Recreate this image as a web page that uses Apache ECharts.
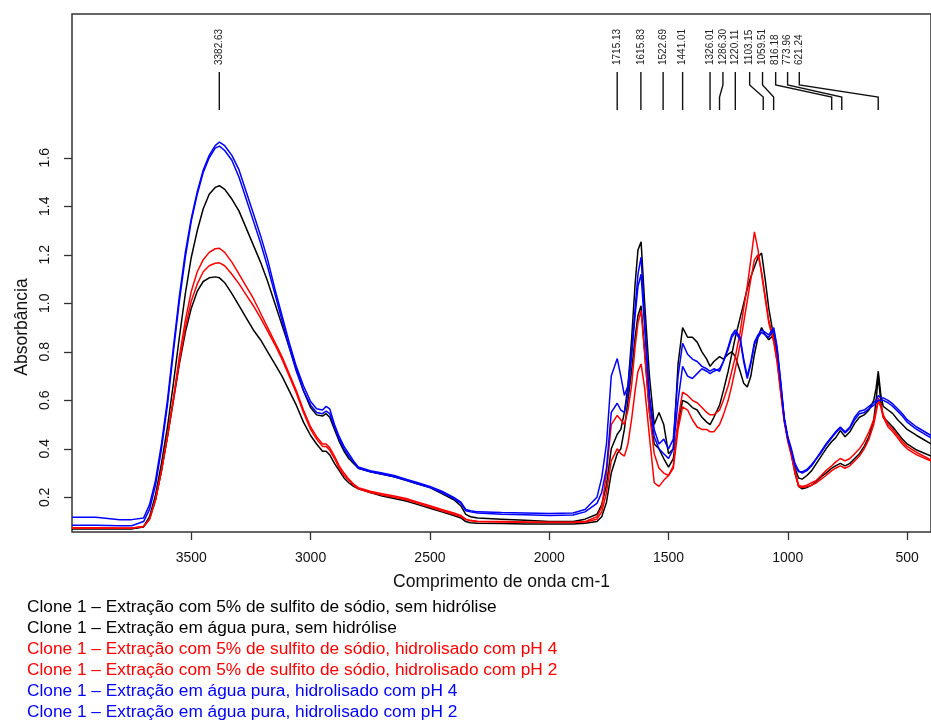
<!DOCTYPE html>
<html>
<head>
<meta charset="utf-8">
<script src="https://cdn.jsdelivr.net/npm/echarts@6/dist/echarts.min.js"></script>
<style>
  html, body { margin: 0; padding: 0; background: #fff; }
  #chart { width: 931px; height: 721px; }
</style>
</head>
<body>
<div id="chart"></div>
<script>
// Wavenumber grid (cm-1) shared by every spectrum
const wavenumbers = [
  4000, 3900, 3800, 3750, 3700, 3675, 3650, 3625, 3600, 3575,
  3550, 3525, 3500, 3475, 3450, 3425, 3400, 3382, 3360, 3330,
  3300, 3270, 3240, 3210, 3180, 3150, 3120, 3090, 3060, 3030,
  3000, 2975, 2950, 2935, 2920, 2900, 2880, 2860, 2840, 2820,
  2800, 2750, 2700, 2650, 2600, 2550, 2500, 2450, 2400, 2370,
  2350, 2330, 2300, 2200, 2100, 2000, 1900, 1850, 1800, 1780,
  1760, 1740, 1715, 1700, 1685, 1670, 1655, 1640, 1628, 1615,
  1600, 1580, 1560, 1540, 1520, 1500, 1480, 1460, 1441, 1420,
  1400, 1380, 1360, 1340, 1326, 1310, 1286, 1270, 1250, 1235,
  1220, 1200, 1185, 1170, 1155, 1140, 1125, 1110, 1095, 1080,
  1059, 1045, 1030, 1015, 1000, 985, 970, 955, 940, 920,
  900, 880, 860, 840, 816, 800, 780, 760, 740, 720,
  700, 680, 660, 640, 630, 621, 610, 600, 580, 560,
  540, 520, 500, 460, 400
];

// Absorbance of each extract
const sulfitoSemHidrolise = [
  0.07, 0.07, 0.07, 0.07, 0.078, 0.11, 0.19, 0.31, 0.45, 0.60,
  0.75, 0.88, 0.98, 1.05, 1.09, 1.105, 1.109, 1.105, 1.085, 1.04,
  0.99, 0.94, 0.89, 0.85, 0.80, 0.75, 0.70, 0.64, 0.58, 0.51,
  0.455, 0.42, 0.39, 0.39, 0.375, 0.34, 0.31, 0.28, 0.26, 0.245,
  0.235, 0.22, 0.205, 0.195, 0.185, 0.17, 0.155, 0.14, 0.125, 0.115,
  0.10, 0.095, 0.093, 0.092, 0.09, 0.09, 0.09, 0.093, 0.10, 0.12,
  0.18, 0.30, 0.38, 0.40, 0.48, 0.60, 0.72, 0.86, 0.95, 0.99,
  0.80, 0.55, 0.42, 0.40, 0.36, 0.325, 0.36, 0.50, 0.60, 0.59,
  0.57, 0.56, 0.53, 0.51, 0.50, 0.53, 0.58, 0.64, 0.72, 0.79,
  0.86, 0.94, 1.00, 1.06, 1.11, 1.15, 1.19, 1.207, 1.10, 0.98,
  0.86, 0.78, 0.65, 0.52, 0.44, 0.38, 0.30, 0.245, 0.235, 0.24,
  0.25, 0.265, 0.285, 0.30, 0.32, 0.33, 0.34, 0.33, 0.34, 0.36,
  0.38, 0.41, 0.45, 0.52, 0.60, 0.70, 0.59, 0.53, 0.51, 0.49,
  0.465, 0.44, 0.42, 0.395, 0.37
];

const aguaSemHidrolise = [
  0.07, 0.07, 0.07, 0.07, 0.08, 0.12, 0.21, 0.34, 0.49, 0.67,
  0.86, 1.04, 1.19, 1.30, 1.39, 1.45, 1.478, 1.485, 1.47, 1.43,
  1.38, 1.31, 1.24, 1.17, 1.09, 1.00, 0.91, 0.82, 0.73, 0.64,
  0.57, 0.54, 0.535, 0.545, 0.53, 0.48, 0.43, 0.39, 0.36, 0.34,
  0.32, 0.305, 0.295, 0.285, 0.27, 0.255, 0.24, 0.215, 0.19, 0.165,
  0.13, 0.12, 0.115, 0.11, 0.105, 0.10, 0.10, 0.11, 0.13, 0.17,
  0.25, 0.40, 0.46, 0.48, 0.55, 0.66, 0.85, 1.08, 1.22, 1.254,
  1.0, 0.70, 0.50, 0.55, 0.50, 0.38, 0.40, 0.75, 0.90, 0.86,
  0.86, 0.84, 0.80, 0.77, 0.74, 0.76, 0.78, 0.77, 0.79, 0.80,
  0.78, 0.72, 0.67, 0.655, 0.70, 0.79, 0.86, 0.90, 0.87, 0.85,
  0.87, 0.80, 0.66, 0.52, 0.44, 0.39, 0.32, 0.28, 0.275, 0.29,
  0.31, 0.34, 0.37, 0.40, 0.43, 0.445, 0.475, 0.45, 0.47, 0.505,
  0.53, 0.54, 0.56, 0.60, 0.65, 0.72, 0.62, 0.575, 0.56, 0.545,
  0.52, 0.50, 0.48, 0.455, 0.42
];

const sulfitoPH4 = [
  0.075, 0.075, 0.074, 0.074, 0.08, 0.11, 0.19, 0.31, 0.45, 0.61,
  0.78, 0.93, 1.05, 1.13, 1.18, 1.21, 1.225, 1.227, 1.21, 1.17,
  1.12, 1.07, 1.02, 0.96, 0.90, 0.84, 0.78, 0.71, 0.64, 0.56,
  0.49, 0.45, 0.42, 0.42, 0.405, 0.37, 0.33, 0.30, 0.275, 0.255,
  0.24, 0.225, 0.215, 0.205, 0.195, 0.18, 0.165, 0.15, 0.135, 0.125,
  0.11, 0.105, 0.10, 0.10, 0.098, 0.097, 0.097, 0.10, 0.12, 0.16,
  0.30, 0.50, 0.538, 0.52, 0.50, 0.56, 0.66, 0.82, 0.92, 0.97,
  0.79, 0.55, 0.38, 0.32, 0.30, 0.29, 0.33, 0.52, 0.634, 0.62,
  0.60, 0.59, 0.57, 0.55, 0.54, 0.54, 0.56, 0.60, 0.66, 0.72,
  0.78, 0.88, 0.98, 1.07, 1.18, 1.295, 1.22, 1.12, 1.02, 0.92,
  0.84, 0.76, 0.64, 0.52, 0.44, 0.38, 0.31, 0.25, 0.245, 0.25,
  0.26, 0.27, 0.29, 0.31, 0.33, 0.345, 0.36, 0.35, 0.36, 0.38,
  0.40, 0.43, 0.47, 0.52, 0.56, 0.61, 0.58, 0.54, 0.50, 0.48,
  0.455, 0.43, 0.41, 0.385, 0.355
];

const sulfitoPH2 = [
  0.072, 0.072, 0.072, 0.072, 0.08, 0.11, 0.19, 0.31, 0.45, 0.60,
  0.76, 0.90, 1.01, 1.08, 1.13, 1.155, 1.165, 1.167, 1.155, 1.12,
  1.08, 1.035, 0.99, 0.94, 0.885, 0.83, 0.77, 0.70, 0.63, 0.55,
  0.48, 0.44, 0.41, 0.41, 0.395, 0.36, 0.32, 0.29, 0.27, 0.25,
  0.235, 0.22, 0.21, 0.20, 0.19, 0.175, 0.16, 0.145, 0.13, 0.12,
  0.108, 0.103, 0.10, 0.098, 0.097, 0.096, 0.096, 0.098, 0.11, 0.14,
  0.22, 0.35, 0.40, 0.38, 0.37, 0.42, 0.52, 0.64, 0.72, 0.75,
  0.65, 0.45, 0.26, 0.245, 0.27, 0.29, 0.32, 0.48, 0.573, 0.56,
  0.52, 0.49, 0.48, 0.48, 0.47, 0.47, 0.50, 0.54, 0.60, 0.66,
  0.73, 0.83, 0.92, 1.01, 1.10, 1.18, 1.20, 1.13, 1.03, 0.93,
  0.85, 0.76, 0.63, 0.51, 0.43, 0.37, 0.30, 0.245, 0.24, 0.245,
  0.25, 0.26, 0.275, 0.29, 0.31, 0.32, 0.33, 0.32, 0.33, 0.35,
  0.37, 0.40, 0.44, 0.50, 0.55, 0.60, 0.57, 0.53, 0.49, 0.47,
  0.445, 0.42, 0.40, 0.375, 0.35
];

const aguaPH4 = [
  0.118, 0.118, 0.108, 0.108, 0.115, 0.17, 0.27, 0.42, 0.60, 0.82,
  1.03, 1.21, 1.35, 1.46, 1.55, 1.61, 1.65, 1.665, 1.65, 1.61,
  1.55, 1.46, 1.37, 1.28, 1.18, 1.06, 0.95, 0.84, 0.74, 0.66,
  0.595, 0.565, 0.56, 0.575, 0.565, 0.50, 0.45, 0.41, 0.38, 0.35,
  0.325, 0.31, 0.30, 0.29, 0.275, 0.26, 0.245, 0.225, 0.20, 0.18,
  0.15, 0.145, 0.14, 0.137, 0.135, 0.133, 0.135, 0.15, 0.20, 0.28,
  0.42, 0.70, 0.772, 0.70, 0.62, 0.66, 0.80, 0.98, 1.12, 1.19,
  0.93, 0.62, 0.48, 0.42, 0.44, 0.40, 0.44, 0.70, 0.835, 0.79,
  0.77, 0.76, 0.74, 0.73, 0.72, 0.73, 0.72, 0.76, 0.82, 0.87,
  0.89, 0.86, 0.77, 0.70, 0.76, 0.84, 0.87, 0.89, 0.88, 0.87,
  0.90, 0.82, 0.68, 0.53, 0.45, 0.40, 0.34, 0.31, 0.30, 0.31,
  0.33, 0.36, 0.39, 0.42, 0.45, 0.47, 0.49, 0.47, 0.49, 0.53,
  0.555, 0.56, 0.575, 0.59, 0.60, 0.62, 0.61, 0.61, 0.60, 0.585,
  0.565, 0.545, 0.52, 0.49, 0.455
];

const aguaPH2 = [
  0.085, 0.085, 0.083, 0.083, 0.10, 0.15, 0.25, 0.40, 0.58, 0.80,
  1.01, 1.19, 1.34, 1.45, 1.54, 1.60, 1.64, 1.648, 1.63, 1.59,
  1.52, 1.43, 1.34, 1.25, 1.15, 1.04, 0.93, 0.82, 0.72, 0.64,
  0.58, 0.55, 0.545, 0.555, 0.545, 0.49, 0.44, 0.40, 0.37, 0.345,
  0.32, 0.305, 0.295, 0.285, 0.27, 0.255, 0.24, 0.22, 0.195, 0.175,
  0.145, 0.14, 0.135, 0.13, 0.128, 0.125, 0.127, 0.14, 0.175, 0.22,
  0.32, 0.55, 0.588, 0.56, 0.55, 0.63, 0.78, 0.95, 1.07, 1.12,
  0.90, 0.60, 0.45, 0.40, 0.38, 0.36, 0.40, 0.60, 0.74, 0.70,
  0.69, 0.71, 0.73, 0.72, 0.71, 0.72, 0.73, 0.76, 0.81, 0.86,
  0.88, 0.85, 0.76, 0.69, 0.75, 0.83, 0.86, 0.88, 0.87, 0.86,
  0.89, 0.81, 0.67, 0.52, 0.44, 0.39, 0.33, 0.305, 0.305, 0.315,
  0.335, 0.36, 0.385, 0.415, 0.445, 0.465, 0.485, 0.465, 0.485, 0.52,
  0.545, 0.55, 0.565, 0.58, 0.59, 0.60, 0.60, 0.60, 0.59, 0.575,
  0.555, 0.535, 0.51, 0.48, 0.445
];

const seriesNames = [
  'Clone 1 – Extração com 5% de sulfito de sódio, sem hidrólise',
  'Clone 1 – Extração em água pura, sem hidrólise',
  'Clone 1 – Extração com 5% de sulfito de sódio, hidrolisado com pH 4',
  'Clone 1 – Extração com 5% de sulfito de sódio, hidrolisado com pH 2',
  'Clone 1 – Extração em água pura, hidrolisado com pH 4',
  'Clone 1 – Extração em água pura, hidrolisado com pH 2'
];
const seriesValues = [sulfitoSemHidrolise, aguaSemHidrolise, sulfitoPH4, sulfitoPH2, aguaPH4, aguaPH2];
const seriesColors = ['#000000', '#000000', '#ff0000', '#ff0000', '#0000ff', '#0000ff'];

// Marked band positions and where their labels sit (cm-1)
const peakPositions = [3382.63, 1715.13, 1615.83, 1522.69, 1441.01, 1326.01, 1286.30, 1220.11, 1103.15, 1059.51, 816.18, 773.96, 621.24];
const peakLabelAnchors = [3382.63, 1715.13, 1615.83, 1522.69, 1441.01, 1326.01, 1272, 1220.11, 1160, 1106, 1051, 1001, 952];

const xTicks = [3500, 3000, 2500, 2000, 1500, 1000, 500];
const yTicks = [0.2, 0.4, 0.6, 0.8, 1.0, 1.2, 1.4, 1.6];

const FONT = '"Liberation Sans", Arial, sans-serif';

const chart = echarts.init(document.getElementById('chart'), null, { renderer: 'canvas' });

// Leader line from a band label down to its wavenumber, with a jog when the label was shifted
function renderPeak(params, api) {
  const top = params.coordSys.y;
  const peakX = api.coord([api.value(0), api.value(1)])[0];
  const anchorX = api.coord([api.value(2), api.value(1)])[0];
  const pts = Math.abs(peakX - anchorX) < 2
    ? [[anchorX, top + 58], [anchorX, top + 96]]
    : [[anchorX, top + 58], [anchorX, top + 71], [peakX, top + 83], [peakX, top + 96]];
  return {
    type: 'group',
    children: [
      { type: 'polyline', shape: { points: pts }, style: { stroke: '#111', lineWidth: 1.4, fill: null } },
      {
        type: 'text', x: anchorX, y: top + 51, rotation: Math.PI / 2,
        style: { text: api.value(0).toFixed(2), fontSize: 10, fontFamily: FONT, fill: '#222', align: 'left', verticalAlign: 'middle' }
      }
    ]
  };
}

const lineSeries = seriesValues.map((vals, i) => ({
  name: seriesNames[i],
  type: 'line',
  data: wavenumbers.map((w, j) => [w, vals[j]]),
  showSymbol: false,
  smooth: false,
  lineStyle: { color: seriesColors[i], width: 1.5 },
  itemStyle: { color: seriesColors[i] },
  emphasis: { disabled: true },
  z: 2 + i
}));

chart.setOption({
  animation: false,
  backgroundColor: '#fff',
  grid: { left: 72, right: -3, top: 14, bottom: 189, show: true, borderColor: '#333', borderWidth: 1.5, backgroundColor: 'transparent' },
  xAxis: {
    type: 'value', min: 400, max: 4000, inverse: true,
    name: 'Comprimento de onda cm-1', nameLocation: 'middle', nameGap: 41,
    nameTextStyle: { fontSize: 17.5, fontFamily: FONT, color: '#111' },
    axisLine: { show: false },
    axisTick: { show: true, length: 8, customValues: xTicks, lineStyle: { color: '#333', width: 1.3 } },
    axisLabel: { customValues: xTicks, margin: 19, fontSize: 14, fontFamily: FONT, color: '#111',
      formatter: v => String(Math.round(v)) },
    splitLine: { show: false }
  },
  yAxis: {
    type: 'value', min: 0.057, max: 2.193,
    axisLine: { show: false },
    axisTick: { show: true, length: 8, customValues: yTicks, lineStyle: { color: '#333', width: 1.3 } },
    axisLabel: { customValues: yTicks, rotate: 90, margin: 20, fontSize: 14, fontFamily: FONT, color: '#111',
      formatter: v => v.toFixed(1) },
    splitLine: { show: false }
  },
  legend: {
    orient: 'vertical', left: 17, top: 592, width: 700, height: 140,
    itemGap: 0, itemWidth: 0, itemHeight: 21,
    icon: 'none', selectedMode: false,
    textStyle: { fontSize: 17.3, fontFamily: FONT, lineHeight: 21 },
    data: seriesNames.map((n, i) => ({ name: n, textStyle: { color: seriesColors[i] } }))
  },
  graphic: [
    { type: 'text', x: 22, y: 327, rotation: Math.PI / 2,
      style: { text: 'Absorbância', fontSize: 17.5, fontFamily: FONT, fill: '#111', align: 'center', verticalAlign: 'middle' } }
  ],
  series: lineSeries.concat([{
    type: 'custom',
    renderItem: renderPeak,
    data: peakPositions.map((p, i) => [p, 2.0, peakLabelAnchors[i]]),
    silent: true,
    z: 10
  }])
});
</script>
</body>
</html>
